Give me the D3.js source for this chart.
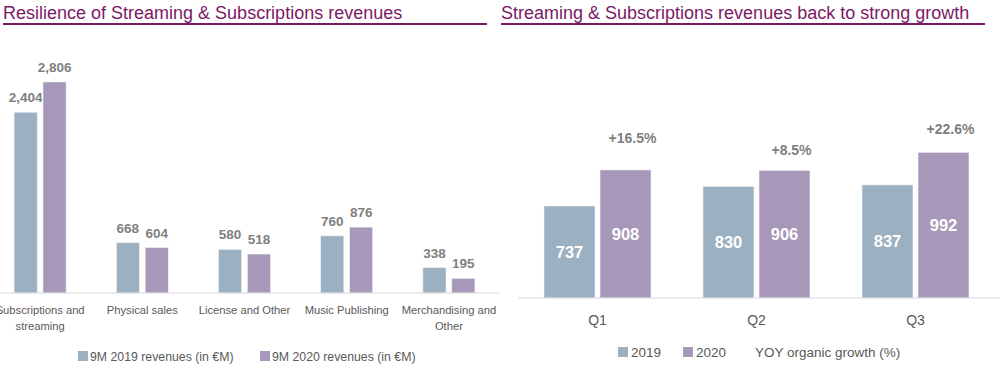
<!DOCTYPE html>
<html>
<head>
<meta charset="utf-8">
<script src="https://cdn.jsdelivr.net/npm/d3@7"></script>
<style>
  body { margin: 0; background: #fff; }
  svg { display: block; font-family: "Liberation Sans", Arial, sans-serif; }
</style>
</head>
<body>
<svg id="chart" width="1000" height="373"></svg>
<script>
// left panel data
const leftCategories = [
  ["Subscriptions and", "streaming"],
  ["Physical sales"],
  ["License and Other"],
  ["Music Publishing"],
  ["Merchandising and", "Other"]
]
const leftSeries = ["9M 2019 revenues (in €M)", "9M 2020 revenues (in €M)"]
const revenues2019 = [2404, 668, 580, 760, 338]
const revenues2020 = [2806, 604, 518, 876, 195]

// right panel data
const quarters = ["Q1", "Q2", "Q3"]
const rightSeries = ["2019", "2020"]
const streaming2019 = [737, 830, 837]
const streaming2020 = [908, 906, 992]
const yoyGrowth = [16.5, 8.5, 22.6]
const growthLabel = "YOY organic growth (%)"

const colors = ["#9bb0c1", "#a797b9"]
const titleColor = "#7b1a64"
const labelGray = "#7f7f7f"
const textGray = "#595959"

const svg = d3.select("#chart")

// titles
const titles = [
  { text: "Resilience of Streaming & Subscriptions revenues", x: 3, x2: 487 },
  { text: "Streaming & Subscriptions revenues back to strong growth", x: 501, x2: 985 }
]
titles.forEach((t) => {
  svg.append("text")
    .attr("x", t.x).attr("y", 19)
    .attr("font-size", 18).attr("fill", titleColor)
    .text(t.text)
  svg.append("line")
    .attr("x1", t.x).attr("x2", t.x2)
    .attr("y1", 24).attr("y2", 24)
    .attr("stroke", titleColor).attr("stroke-width", 2)
})

// ---- left chart ----
const lBase = 293
const lx0 = d3.scaleBand().domain(d3.range(leftCategories.length)).range([-11, 500])
const lx1 = d3.scaleBand().domain([0, 1]).range([-26, 26]).paddingInner(0.2)
const ly = d3.scaleLinear().domain([0, 3000]).range([lBase, lBase - 225.6])

const left = svg.append("g")
const lData = [revenues2019, revenues2020]

lData.forEach((vals, s) => {
  const g = left.append("g")
  g.selectAll("rect").data(vals).join("rect")
    .attr("x", (d, i) => lx0(i) + lx0.bandwidth() / 2 + lx1(s))
    .attr("y", (d) => ly(d))
    .attr("width", lx1.bandwidth())
    .attr("height", (d) => lBase - ly(d))
    .attr("fill", colors[s])
    .attr("stroke", "#eef0f4").attr("stroke-width", 0.6)
  g.selectAll("text").data(vals).join("text")
    .attr("x", (d, i) => lx0(i) + lx0.bandwidth() / 2 + lx1(s) + lx1.bandwidth() / 2)
    .attr("y", (d) => ly(d) - 10)
    .attr("text-anchor", "middle")
    .attr("font-size", 13.5).attr("font-weight", "bold")
    .attr("fill", labelGray)
    .text((d) => d3.format(",")(d))
})

left.append("line")
  .attr("x1", 0).attr("x2", 500)
  .attr("y1", lBase).attr("y2", lBase)
  .attr("stroke", "#d9d9d9").attr("stroke-width", 1.2)

left.selectAll(".cat").data(leftCategories).join("text")
  .attr("class", "cat")
  .attr("text-anchor", "middle")
  .attr("font-size", 11.2).attr("fill", textGray)
  .each(function (lines, i) {
    const cx = lx0(i) + lx0.bandwidth() / 2
    d3.select(this).selectAll("tspan").data(lines).join("tspan")
      .attr("x", cx)
      .attr("y", (d, j) => lBase + 21 + j * 16)
      .text((d) => d)
  })

// left legend
const lLegend = [{ x: 78 }, { x: 260 }]
lLegend.forEach((l, s) => {
  svg.append("rect").attr("x", l.x).attr("y", 351).attr("width", 10).attr("height", 10)
    .attr("fill", colors[s])
  svg.append("text").attr("x", l.x + 12).attr("y", 361)
    .attr("font-size", 12.3).attr("fill", textGray)
    .text(leftSeries[s])
})

// ---- right chart ----
const rBase = 298
const rx0 = d3.scaleBand().domain(quarters).range([518, 995])
const rx1 = d3.scaleBand().domain([0, 1]).range([-53.5, 53.5]).paddingInner(0.09)
const ry = d3.scaleLinear().domain([300, 1000]).range([rBase, rBase - 147.4])
const gy = d3.scaleLinear().domain([0, 25]).range([163.6, 124.8])

const right = svg.append("g")
const rData = [streaming2019, streaming2020]

rData.forEach((vals, s) => {
  const g = right.append("g")
  g.selectAll("rect").data(vals).join("rect")
    .attr("x", (d, i) => rx0(quarters[i]) + rx0.bandwidth() / 2 + rx1(s))
    .attr("y", (d) => ry(d))
    .attr("width", rx1.bandwidth())
    .attr("height", (d) => rBase - ry(d))
    .attr("fill", colors[s])
    .attr("stroke", "#eef0f4").attr("stroke-width", 0.6)
  g.selectAll("text").data(vals).join("text")
    .attr("x", (d, i) => rx0(quarters[i]) + rx0.bandwidth() / 2 + rx1(s) + rx1.bandwidth() / 2)
    .attr("y", (d) => (ry(d) + rBase) / 2)
    .attr("dy", "0.36em")
    .attr("text-anchor", "middle")
    .attr("font-size", 16.5).attr("font-weight", "bold")
    .attr("fill", "#fff")
    .text((d) => d)
})

// growth labels (invisible line series, labels only)
right.selectAll(".growth").data(yoyGrowth).join("text")
  .attr("class", "growth")
  .attr("x", (d, i) => rx0(quarters[i]) + rx0.bandwidth() / 2 + 35)
  .attr("y", (d) => gy(d))
  .attr("dy", "0.36em")
  .attr("text-anchor", "middle")
  .attr("font-size", 14).attr("font-weight", "bold")
  .attr("fill", labelGray)
  .text((d) => "+" + d.toFixed(1) + "%")

right.append("line")
  .attr("x1", 518).attr("x2", 1000)
  .attr("y1", rBase).attr("y2", rBase)
  .attr("stroke", "#d9d9d9").attr("stroke-width", 1.2)

right.selectAll(".q").data(quarters).join("text")
  .attr("class", "q")
  .attr("x", (d) => rx0(d) + rx0.bandwidth() / 2)
  .attr("y", rBase + 27)
  .attr("text-anchor", "middle")
  .attr("font-size", 14).attr("fill", textGray)
  .text((d) => d)

// right legend
const rLegend = [{ x: 618 }, { x: 683 }]
rLegend.forEach((l, s) => {
  svg.append("rect").attr("x", l.x).attr("y", 347).attr("width", 10).attr("height", 10)
    .attr("fill", colors[s])
  svg.append("text").attr("x", l.x + 13).attr("y", 357)
    .attr("font-size", 13.5).attr("fill", textGray)
    .text(rightSeries[s])
})
svg.append("text").attr("x", 755).attr("y", 357)
  .attr("font-size", 13.5).attr("fill", textGray)
  .text(growthLabel)
</script>
</body>
</html>
